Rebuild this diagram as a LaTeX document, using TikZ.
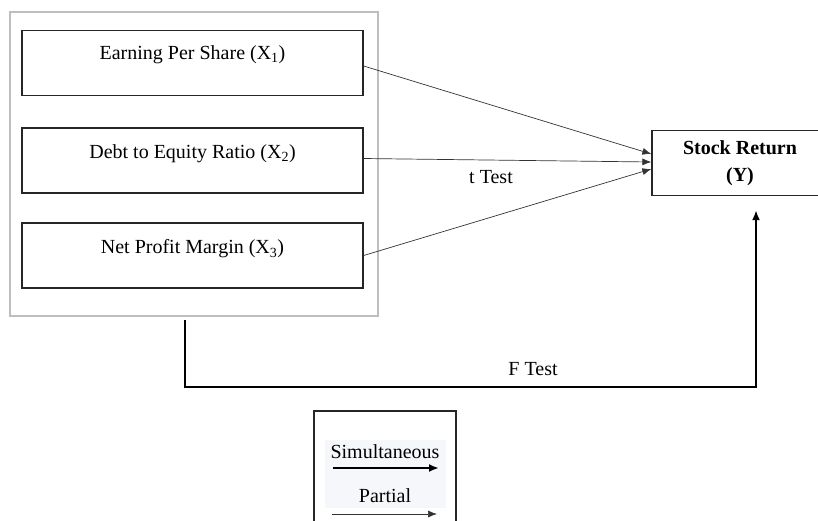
\documentclass[tikz,border=0pt]{standalone}
\usepackage{fontspec}
\setmainfont{Liberation Serif}
\usetikzlibrary{arrows.meta,positioning}
\definecolor{grpgray}{RGB}{190,190,190}
\definecolor{legbg}{RGB}{246,247,250}
\tikzset{
  varbox/.style={draw=black!85, line width=1.3pt, minimum width=341pt, minimum height=65pt, inner sep=0pt},
  boxtext/.style={font=\fontsize{20}{24}\selectfont, anchor=center},
  thinarrow/.style={draw=black!80, line width=0.7pt, -{Latex[length=9pt,width=7pt]}},
  thickarrow/.style={draw=black, line width=2pt, -{Latex[length=10pt,width=8pt]}},
  lbl/.style={font=\fontsize{20}{24}\selectfont}
}
\begin{document}
\begin{tikzpicture}[x=1pt,y=1pt]
\useasboundingbox (0,0) rectangle (818,-520);
\clip (0,0) rectangle (818,-520);
% group box
\node[draw=grpgray, line width=1.5pt, minimum width=368pt, minimum height=304pt, inner sep=0pt] (g) at (194,-164) {};
% variable boxes
\node[varbox] (b1) at (192.5,-63) {};
\node[varbox] (b2) at (192.5,-160.5) {};
\node[varbox] (b3) at (192.5,-255.5) {};
\node[boxtext] (t1) at (192.5,-55) {Earning Per Share (X\textsubscript{1})};
\node[boxtext] (t2) at (192.5,-154) {Debt to Equity Ratio (X\textsubscript{2})};
\node[boxtext] (t3) at (192.5,-249) {Net Profit Margin (X\textsubscript{3})};
% dependent
\node[draw=black!85, line width=1.3pt, minimum width=176pt, minimum height=65pt, inner sep=0pt, align=center, font=\fontsize{20}{27}\selectfont\bfseries] (y) at (740,-163) {Stock Return\\(Y)};
% partial arrows
\draw[thinarrow] ([yshift=-3pt]b1.east) -- ([yshift=9pt]y.west);
\draw[thinarrow] ([yshift=2pt]b2.east) -- ([yshift=1pt]y.west);
\draw[thinarrow] ([yshift=0pt]b3.east) -- ([yshift=-6pt]y.west);
\node[lbl] (tt) at (491,-177) {t Test};
% F test
\coordinate (fs) at (185,-320);
\coordinate (fc1) at (185,-387);
\coordinate (fc2) at (756,-387);
\draw[thickarrow] (fs) -- (fc1) -- (fc2) -- ([xshift=16pt,yshift=-14pt]y.south);
\node[lbl] (ft) at (533,-369) {F Test};
% legend
\draw[black!85, line width=1.3pt] (314,-525) -- (314,-411) -- (456,-411) -- (456,-525);
\fill[legbg] (325,-440) rectangle (446,-508);
\node[lbl] (ls) at (385,-452) {Simultaneous};
\node[lbl] (lp) at (385,-496) {Partial};
\coordinate (la1) at (333,-468);
\coordinate (la2) at (439,-468);
\coordinate (lb1) at (332,-514);
\coordinate (lb2) at (437,-514);
\draw[thickarrow] (la1) -- (la2);
\draw[thinarrow] (lb1) -- (lb2);
\end{tikzpicture}
\end{document}
